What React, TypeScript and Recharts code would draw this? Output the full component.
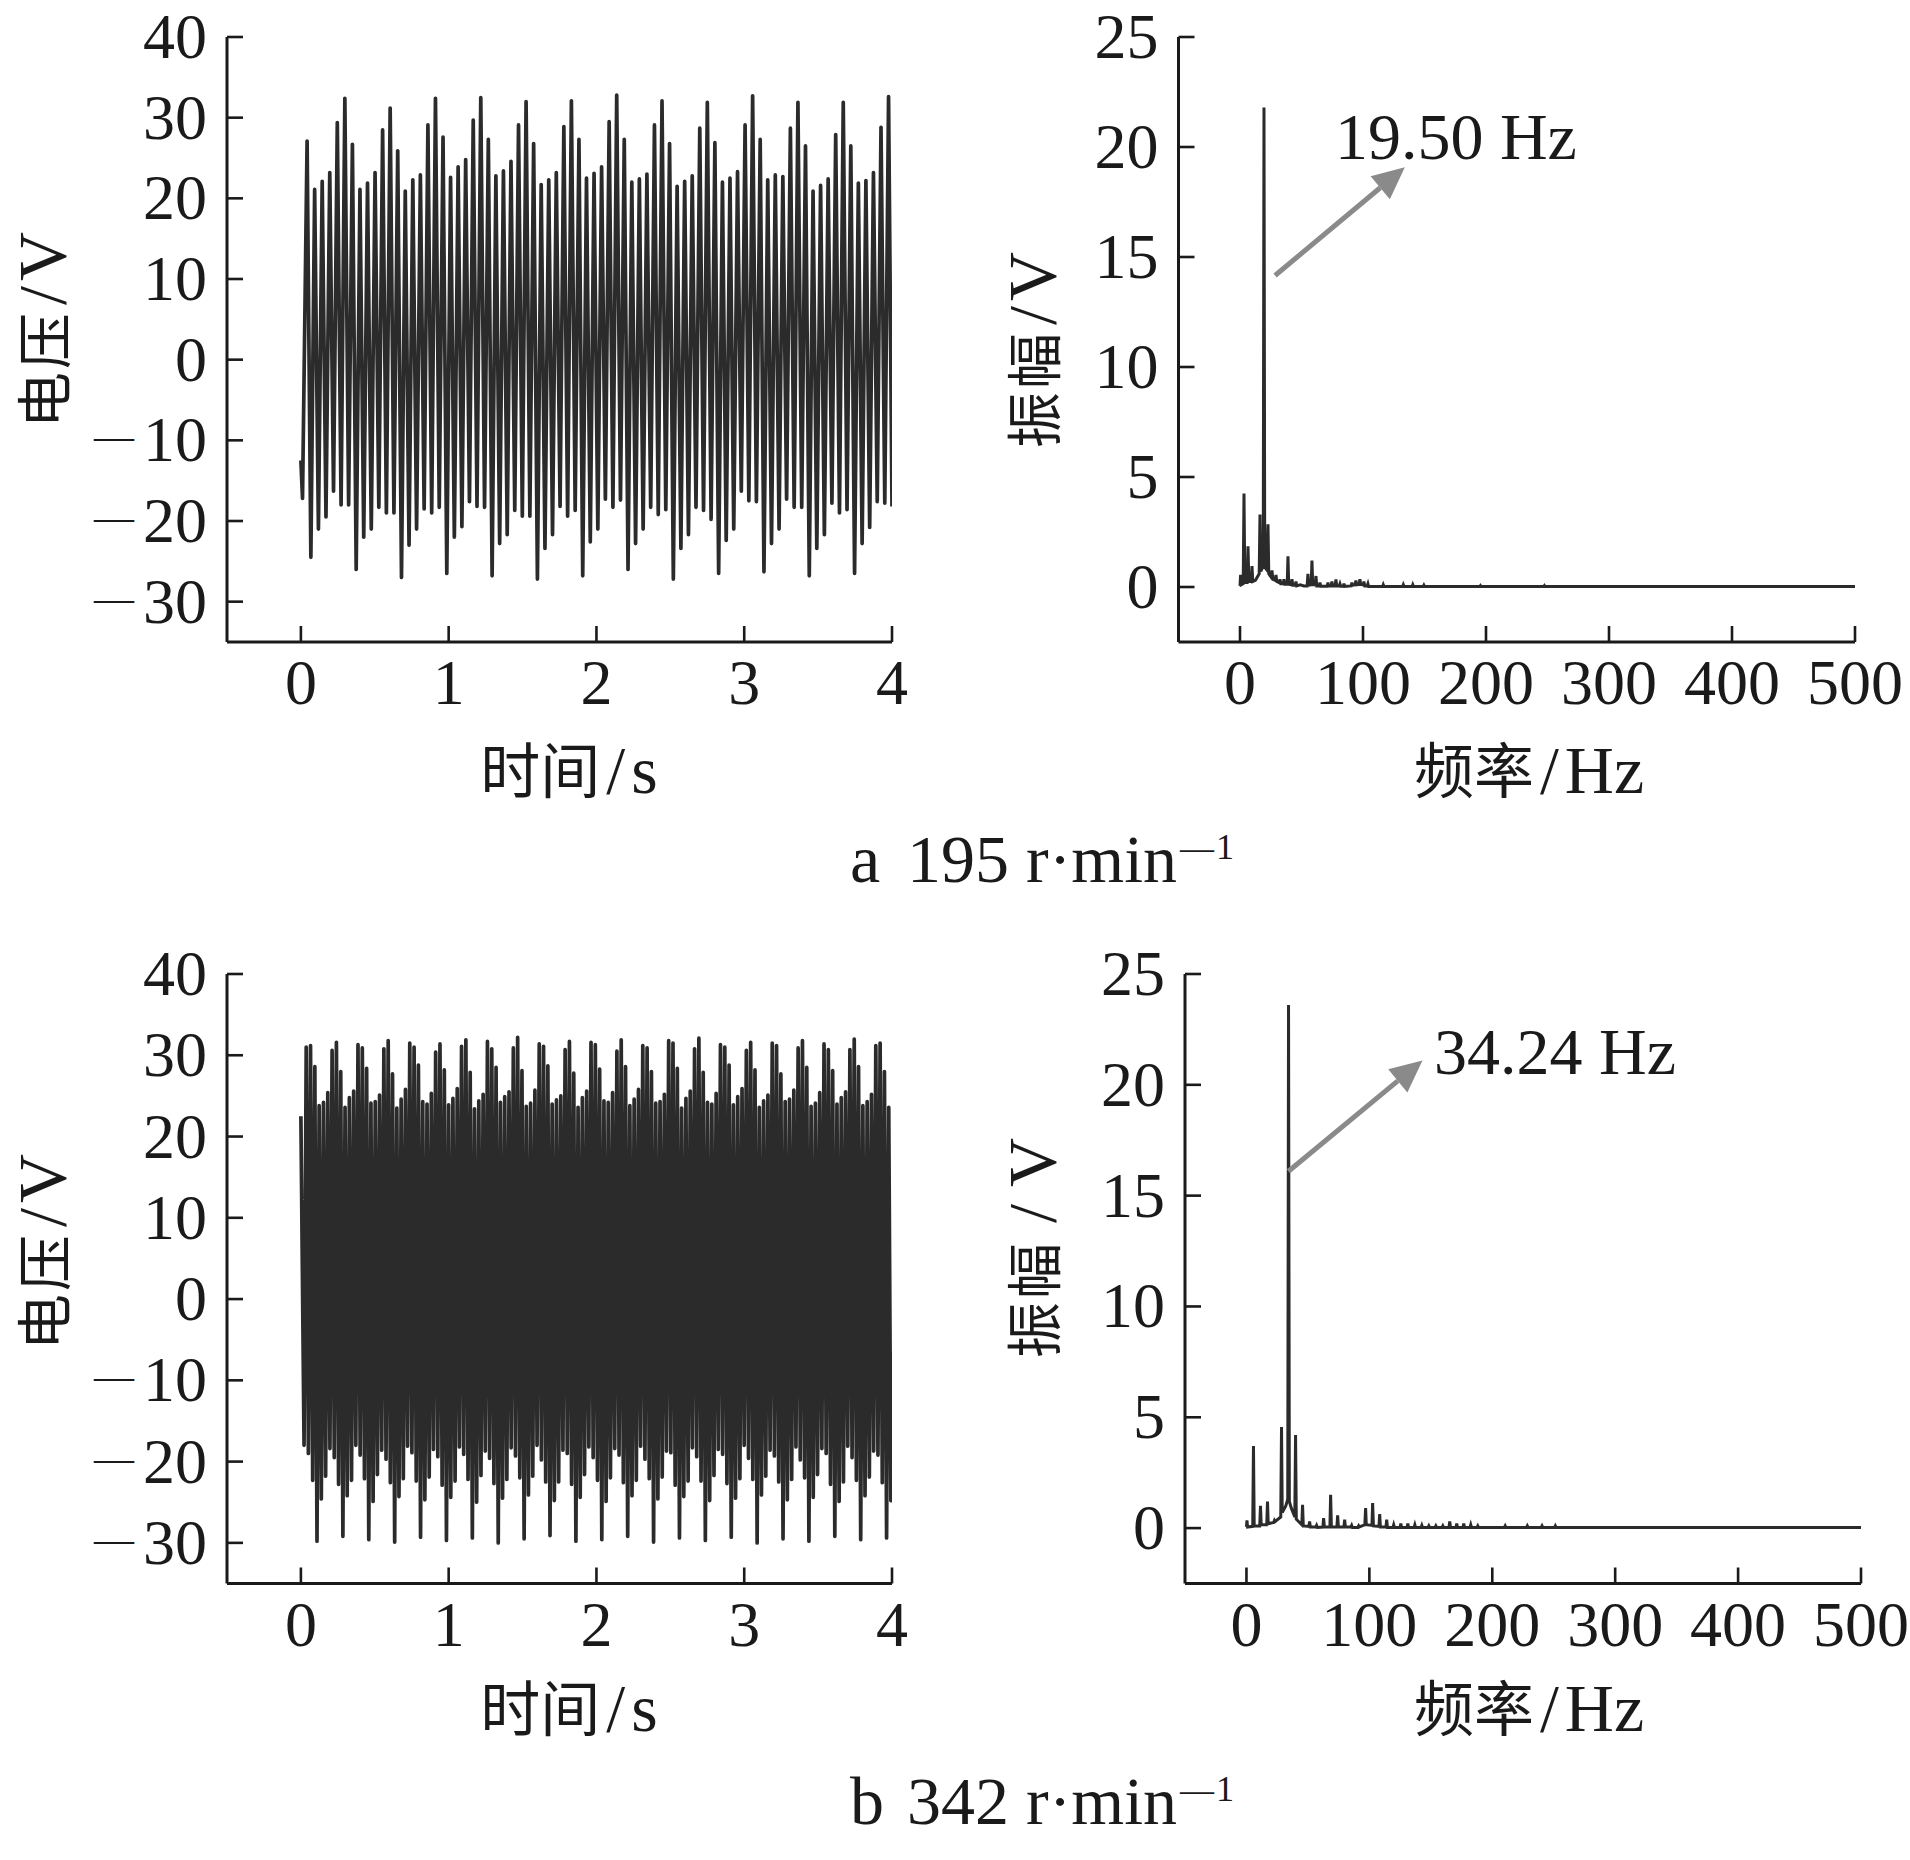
import React from 'react';
import { LineChart, Line, XAxis, YAxis, ReferenceLine, ReferenceDot } from 'recharts';

const SERIF = '"Liberation Serif", "DejaVu Serif", serif';
const CJK = '"Noto Sans CJK SC", "Noto Sans CJK JP", sans-serif';
const INK = '#1a1a1a';
const WAVE = '#2b2b2b';
const ARROW = '#8a8a8a';

// ---------- tick labels ----------
const timeTicks = [0, 1, 2, 3, 4];
const voltTicks = [-30, -20, -10, 0, 10, 20, 30, 40];
const freqTicks = [0, 100, 200, 300, 400, 500];
const ampTicks = [0, 5, 10, 15, 20, 25];

// ---------- (a) 195 r/min : time signal, extremes of each oscillation ----------
const waveAStart: [number, number][] = [[0, -12.5], [0.011, -17.2]];
const waveAFirstPeak = 0.042; // s
const waveAPeriod = 0.0511; // s (≈19.5 Hz)
const waveAPeaks = [
  27.1, 21.1, 22.1, 23.2, 29.4, 32.4,
  26.7, 21.1, 21.9, 23.2, 28.5, 31.2,
  25.9, 20.9, 22.3, 22.9, 29.1, 32.4,
  27.6, 22.6, 23.9, 24.8, 29.7, 32.5,
  27.3, 22.8, 23.4, 24.6, 29.1, 32.0,
  26.8, 21.7, 22.3, 23.2, 28.9, 32.1,
  27.3, 22.5, 23.1, 23.9, 29.5, 32.8,
  27.3, 22.0, 22.4, 23.0, 29.1, 32.1,
  26.8, 21.5, 22.1, 22.8, 28.7, 31.9,
  26.9, 22.0, 22.5, 23.3, 29.1, 32.7,
  27.3, 22.3, 22.9, 22.7, 28.7, 31.9,
  26.5, 20.9, 21.6, 22.4, 27.9, 31.9,
  26.5, 21.9, 22.2, 23.2, 28.8, 32.6,
];
const waveATroughs = [
  -24.5, -21.0, -19.5, -16.3, -18.0, -18.0,
  -26.0, -22.0, -21.0, -18.3, -19.0, -19.0,
  -27.0, -23.0, -21.0, -18.5, -19.0, -18.3,
  -26.5, -22.0, -20.7, -17.6, -18.2, -18.3,
  -26.8, -22.8, -21.7, -18.7, -19.4, -19.4,
  -27.2, -23.4, -21.7, -18.2, -19.4, -18.7,
  -26.8, -22.6, -21.0, -17.3, -18.3, -17.4,
  -26.0, -22.8, -21.0, -18.3, -19.2, -18.6,
  -27.2, -23.4, -21.7, -18.3, -18.7, -19.8,
  -26.5, -22.4, -21.0, -16.3, -17.5, -17.6,
  -26.3, -22.8, -21.0, -17.3, -18.3, -18.3,
  -26.8, -23.4, -21.7, -17.8, -19.0, -18.6,
  -26.5, -22.8, -20.8, -17.6, -17.8,
];
const waveAEnd: [number, number] = [4.0, -18.2];

// ---------- (b) 342 r/min : time signal ----------
const waveBStart: [number, number][] = [[0, 22.5], [0.0214, -18.0]];
const waveBFirstPeak = 0.036;
const waveBPeriod = 0.0292; // s (≈34.24 Hz)
const waveBPeaks = [
  31.0, 31.2, 28.6, 23.8, 24.2, 25.4,
  30.6, 31.6, 28.0, 23.6, 24.8, 25.6,
  31.3, 30.9, 28.4, 24.1, 24.3, 25.1,
  30.8, 31.8, 27.7, 23.5, 24.6, 25.8,
  31.5, 31.0, 28.8, 24.3, 24.0, 25.3,
  30.4, 31.4, 28.2, 23.9, 24.7, 25.9,
  31.1, 31.9, 27.9, 23.4, 24.4, 25.2,
  31.7, 30.8, 28.5, 24.2, 24.9, 25.5,
  30.9, 32.2, 28.1, 23.7, 24.1, 25.7,
  31.4, 31.1, 28.7, 24.0, 24.5, 25.0,
  30.7, 31.7, 27.8, 23.6, 24.8, 25.6,
  31.6, 31.3, 28.3, 24.4, 24.2, 25.4,
  30.5, 31.9, 28.6, 23.8, 24.6, 25.8,
  31.2, 30.9, 28.0, 24.1, 24.3, 25.2,
  31.8, 31.5, 28.4, 23.5, 24.7, 25.6,
  30.8, 32.1, 27.9, 24.2, 24.0, 25.3,
  31.3, 31.0, 28.8, 23.9, 24.9, 25.9,
  30.6, 31.6, 28.2, 23.6, 24.4, 25.1,
  31.5, 31.2, 27.7, 24.3, 24.6, 25.7,
  30.9, 31.8, 28.5, 23.7, 24.1, 25.4,
  31.4, 30.7, 28.1, 24.0, 24.8, 25.5,
  30.7, 32.0, 28.6, 23.8, 24.3, 25.2,
  31.2, 31.5, 28.0, 23.6,
];
const waveBTroughs = [
  -19.0, -22.3, -29.8, -24.6, -21.8, -18.4,
  -19.5, -22.8, -29.2, -24.2, -22.3, -18.0,
  -19.2, -22.1, -29.6, -24.9, -21.6, -18.6,
  -19.7, -22.6, -29.9, -24.3, -22.1, -18.1,
  -18.9, -22.4, -29.3, -24.7, -21.9, -18.5,
  -19.4, -22.9, -29.7, -24.4, -22.4, -18.2,
  -19.1, -22.2, -29.4, -25.0, -21.7, -18.7,
  -19.6, -22.7, -30.0, -24.5, -22.2, -18.3,
  -19.3, -22.0, -29.5, -24.1, -21.8, -18.0,
  -19.8, -22.5, -29.1, -24.8, -22.5, -18.6,
  -19.0, -22.8, -29.8, -24.4, -21.6, -18.2,
  -19.5, -22.3, -29.6, -24.9, -22.0, -18.4,
  -19.2, -22.6, -29.2, -24.2, -22.3, -18.1,
  -19.7, -22.1, -29.9, -24.6, -21.9, -18.7,
  -18.9, -22.9, -29.4, -24.3, -22.4, -18.3,
  -19.4, -22.4, -29.7, -24.8, -21.7, -18.5,
  -19.1, -22.7, -29.3, -24.5, -22.1, -18.0,
  -19.6, -22.2, -30.0, -24.1, -21.8, -18.6,
  -19.3, -22.5, -29.5, -24.7, -22.2, -18.2,
  -19.8, -22.0, -29.8, -24.4, -21.6, -18.4,
  -19.0, -22.8, -29.2, -24.9, -22.5, -18.1,
  -19.5, -22.3, -29.6, -24.2, -21.9, -18.7,
  -19.2, -22.6, -29.4, -24.8,
];
const waveBEnd: [number, number] = [4.0, -6.5];

// ---------- spectra: [frequency Hz, amplitude V] ----------
const spectrumA: [number, number][] = [
  [0, 0.05], [0.5, 0.55], [1.0, 0.1], [2.6, 0.15], [3.25, 4.25], [3.9, 0.2],
  [5.8, 0.2], [6.5, 1.85], [7.2, 0.25], [9.1, 0.25], [9.75, 0.95], [10.4, 0.25],
  [12.5, 0.3], [13.5, 0.4], [15.6, 0.6], [16.25, 3.3], [16.9, 0.7], [17.5, 0.8],
  [18.9, 0.9], [19.5, 21.8], [20.1, 0.9], [21.5, 0.8], [22.75, 2.85], [23.4, 0.6],
  [25.3, 0.45], [26, 0.75], [26.7, 0.35], [28.6, 0.3], [29.25, 0.55], [29.9, 0.25],
  [31.8, 0.2], [32.5, 0.35], [33.2, 0.15], [35.1, 0.15], [35.75, 0.35], [36.4, 0.12],
  [38.4, 0.12], [39, 1.4], [39.6, 0.12], [41.6, 0.1], [42.25, 0.35], [42.9, 0.08],
  [44.9, 0.08], [45.5, 0.25], [46.1, 0.05], [49, 0.1], [52, 0.05], [54.6, 0.05],
  [55.25, 0.6], [55.9, 0.08], [57.9, 0.1], [58.5, 1.2], [59.1, 0.1], [61.1, 0.1],
  [61.75, 0.5], [62.4, 0.05], [64.4, 0.05], [65, 0.2], [65.6, 0.03], [70.9, 0.03],
  [71.5, 0.2], [72.1, 0.05], [74.1, 0.05], [74.75, 0.25], [75.4, 0.05], [77.4, 0.05],
  [78, 0.35], [78.6, 0.05], [80.6, 0.05], [81.25, 0.15], [81.9, 0.03], [84, 0.03],
  [84.5, 0.15], [85.1, 0.03], [90.4, 0.05], [91, 0.2], [91.6, 0.08], [93.6, 0.1],
  [94.25, 0.3], [94.9, 0.1], [96.9, 0.12], [97.5, 0.35], [98.1, 0.12], [100.1, 0.1],
  [100.75, 0.25], [101.4, 0.05], [103.4, 0.05], [104, 0.15], [104.6, 0.02], [116, 0.02],
  [116.5, 0.1], [117.1, 0.02], [132.3, 0.02], [132.8, 0.1], [133.4, 0.02], [140, 0.02],
  [140.5, 0.1], [141.1, 0.02], [149, 0.02], [149.5, 0.08], [150, 0.02], [195, 0.02],
  [195.5, 0.06], [196, 0.02], [247, 0.02], [247.5, 0.06], [248, 0.02], [500, 0.02],
];
const spectrumB: [number, number][] = [
  [0, 0.05], [0.4, 0.35], [0.9, 0.05], [5.1, 0.08], [5.71, 3.7], [6.3, 0.1],
  [10.8, 0.1], [11.42, 1.0], [12.0, 0.15], [16.5, 0.15], [17.12, 1.2], [17.7, 0.2],
  [22.2, 0.25], [22.83, 0.35], [23.4, 0.3], [27.9, 0.5], [28.53, 4.56], [29.1, 0.7],
  [32.0, 1.0], [33.6, 1.3], [34.24, 23.6], [34.9, 1.2], [36.5, 0.9], [39.35, 0.5],
  [39.95, 4.2], [40.55, 0.4], [45.05, 0.15], [45.65, 1.05], [46.25, 0.1], [50.8, 0.08],
  [51.36, 0.3], [52.0, 0.05], [56.5, 0.05], [57.07, 0.12], [57.7, 0.03], [62.2, 0.05],
  [62.78, 0.45], [63.4, 0.05], [67.9, 0.05], [68.48, 1.5], [69.1, 0.05], [73.6, 0.05],
  [74.19, 0.57], [74.8, 0.05], [79.3, 0.05], [79.89, 0.38], [80.5, 0.05], [85.0, 0.05],
  [85.6, 0.12], [86.2, 0.03], [90.7, 0.03], [91.3, 0.1], [91.9, 0.05], [96.3, 0.15],
  [96.95, 0.9], [97.5, 0.15], [102.1, 0.12], [102.66, 1.13], [103.3, 0.1], [107.8, 0.08],
  [108.4, 0.63], [109.0, 0.05], [113.5, 0.05], [114.1, 0.38], [114.7, 0.03], [119.2, 0.03],
  [119.8, 0.15], [120.4, 0.03], [125.0, 0.03], [125.6, 0.2], [126.2, 0.03], [130.7, 0.03],
  [131.3, 0.2], [131.9, 0.03], [136.4, 0.03], [137.0, 0.15], [137.6, 0.03], [142.1, 0.03],
  [142.7, 0.12], [143.3, 0.03], [147.8, 0.03], [148.4, 0.1], [149.0, 0.03], [153.5, 0.03],
  [154.1, 0.1], [154.7, 0.03], [159.2, 0.03], [159.8, 0.1], [160.4, 0.03], [164.8, 0.03],
  [165.4, 0.3], [166.0, 0.03], [170.5, 0.03], [171.1, 0.2], [171.7, 0.03], [176.2, 0.03],
  [176.8, 0.2], [177.4, 0.03], [181.9, 0.03], [182.5, 0.15], [183.1, 0.03], [187.6, 0.03],
  [188.2, 0.1], [188.8, 0.03], [209.9, 0.03], [210.5, 0.1], [211.1, 0.03], [227.9, 0.03],
  [228.5, 0.1], [229.1, 0.03], [239.9, 0.03], [240.5, 0.1], [241.1, 0.03], [250.7, 0.03],
  [251.3, 0.1], [251.9, 0.03], [500, 0.03],
];

// ---------- annotations (data coordinates) ----------
const annoA = { from: { x: 28.5, y: 14.16 }, to: { x: 134, y: 19.08 }, text: '19.50 Hz', tx: 77.2, ty: 19.44 };
const annoB = { from: { x: 34.2, y: 16.1 }, to: { x: 143.2, y: 21.1 }, text: '34.24 Hz', tx: 152.6, ty: 20.5 };

type Pt = { t: number; v: number };
function buildWave(start: [number, number][], t0: number, period: number, peaks: number[], troughs: number[], end: [number, number]): Pt[] {
  const pts: Pt[] = start.map(([t, v]) => ({ t, v }));
  peaks.forEach((p, i) => {
    pts.push({ t: t0 + i * period, v: p });
    if (i < troughs.length) pts.push({ t: t0 + (i + 0.5) * period, v: troughs[i] });
  });
  pts.push({ t: end[0], v: end[1] });
  return pts;
}
const dataA = buildWave(waveAStart, waveAFirstPeak, waveAPeriod, waveAPeaks, waveATroughs, waveAEnd);
const dataB = buildWave(waveBStart, waveBFirstPeak, waveBPeriod, waveBPeaks, waveBTroughs, waveBEnd);
const specA = spectrumA.map(([f, a]) => ({ f, a }));
const specB = spectrumB.map(([f, a]) => ({ f, a }));

const TICK_FS = 64;

const YTick = (props: any) => {
  const { x, y, payload } = props;
  const v = payload.value as number;
  return (
    <g>
      <line x1={x} y1={y} x2={x + 16} y2={y} stroke={INK} strokeWidth={2.6} />
      <text x={x - 20} y={y + 21} textAnchor="end" fontFamily={SERIF} fontSize={TICK_FS} fill={INK}>
        {v < 0 ? (
          <>
            <tspan fontSize={40} dy={-12}>—</tspan>
            <tspan dx={9} dy={12}>{Math.abs(v)}</tspan>
          </>
        ) : (
          String(v)
        )}
      </text>
    </g>
  );
};

const XTick = (props: any) => {
  const { x, y, payload } = props;
  return (
    <g>
      <line x1={x} y1={y} x2={x} y2={y - 16} stroke={INK} strokeWidth={2.6} />
      <text x={x} y={y + 62} textAnchor="middle" fontFamily={SERIF} fontSize={TICK_FS} fill={INK}>
        {String(payload.value)}
      </text>
    </g>
  );
};

const ArrowShape = (props: any) => {
  const { x1, y1, x2, y2 } = props;
  const ang = Math.atan2(y2 - y1, x2 - x1);
  const L = 32;
  const W = 15;
  const bx = x2 - L * Math.cos(ang);
  const by = y2 - L * Math.sin(ang);
  const px = -Math.sin(ang);
  const py = Math.cos(ang);
  return (
    <g>
      <line x1={x1} y1={y1} x2={bx} y2={by} stroke={ARROW} strokeWidth={5} />
      <polygon points={`${x2},${y2} ${bx + px * W},${by + py * W} ${bx - px * W},${by - py * W}`} fill={ARROW} />
    </g>
  );
};

const axisLine = { stroke: INK, strokeWidth: 3 };

function TimePanel({ data, left, top, width, height, margin }: any) {
  return (
    <div style={{ position: 'absolute', left, top, width, height }}>
      <LineChart width={width} height={height} data={data} margin={margin}>
        <XAxis
          type="number"
          dataKey="t"
          domain={[-0.5, 4]}
          ticks={timeTicks}
          interval={0}
          allowDataOverflow
          axisLine={axisLine}
          tickLine={false}
          tickSize={0}
          tickMargin={0}
          height={30}
          tick={XTick}
        />
        <YAxis
          type="number"
          domain={[-35, 40]}
          ticks={voltTicks}
          interval={0}
          allowDataOverflow
          axisLine={axisLine}
          tickLine={false}
          tickSize={0}
          tickMargin={0}
          width={80}
          tick={YTick}
        />
        <Line
          type="linear"
          dataKey="v"
          stroke={WAVE}
          strokeWidth={3.7}
          strokeLinejoin="round"
          dot={false}
          activeDot={false}
          isAnimationActive={false}
        />
      </LineChart>
    </div>
  );
}

function SpecPanel({ data, left, top, width, height, margin, anno }: any) {
  return (
    <div style={{ position: 'absolute', left, top, width, height }}>
      <LineChart width={width} height={height} data={data} margin={margin}>
        <XAxis
          type="number"
          dataKey="f"
          domain={[-50, 500]}
          ticks={freqTicks}
          interval={0}
          allowDataOverflow
          axisLine={axisLine}
          tickLine={false}
          tickSize={0}
          tickMargin={0}
          height={30}
          tick={XTick}
        />
        <YAxis
          type="number"
          domain={[-2.5, 25]}
          ticks={ampTicks}
          interval={0}
          allowDataOverflow
          axisLine={axisLine}
          tickLine={false}
          tickSize={0}
          tickMargin={0}
          width={80}
          tick={YTick}
        />
        <Line
          type="linear"
          dataKey="a"
          stroke={WAVE}
          strokeWidth={3}
          dot={false}
          activeDot={false}
          isAnimationActive={false}
        />
        <ReferenceLine segment={[anno.from, anno.to]} shape={ArrowShape} />
        <ReferenceDot
          x={anno.tx}
          y={anno.ty}
          r={0}
          shape={(p: any) => (
            <text x={p.cx} y={p.cy} fontFamily={SERIF} fontSize={66} fill={INK}>
              {anno.text}
            </text>
          )}
        />
      </LineChart>
    </div>
  );
}

// unit part "/X": the slash gets a little air on both sides (as in the reference typesetting)
const Unit = ({ sep, unit, gap }: { sep: string; unit: string; gap: number }) => (
  <>
    <tspan fontFamily={SERIF} fontSize={68} dx={gap}>{sep}</tspan>
    <tspan fontFamily={SERIF} fontSize={68} dx={gap}>{unit}</tspan>
  </>
);

// vertical title: x = baseline position (glyph tops point left)
const TitleV = ({ x, cy, cjk, sep, unit, gap = 5 }: { x: number; cy: number; cjk: string; sep: string; unit: string; gap?: number }) => (
  <text transform={`translate(${x},${cy}) rotate(-90)`} textAnchor="middle" fill={INK}>
    <tspan fontFamily={CJK} fontSize={56} letterSpacing={3}>{cjk}</tspan>
    <Unit sep={sep} unit={unit} gap={gap} />
  </text>
);

const TitleH = ({ cx, y, cjk, sep, unit }: { cx: number; y: number; cjk: string; sep: string; unit: string }) => (
  <text x={cx} y={y} textAnchor="middle" fill={INK}>
    <tspan fontFamily={CJK} fontSize={60}>{cjk}</tspan>
    <Unit sep={sep} unit={unit} gap={6} />
  </text>
);

const Caption = ({ y, letter, speed }: { y: number; letter: string; speed: string }) => (
  <text y={y} fontFamily={SERIF} fontSize={68} fill={INK}>
    <tspan x={850}>{letter}</tspan>
    <tspan x={907}>{speed} r·min</tspan>
    <tspan x={1180} y={y - 23} fontSize={34}>—</tspan>
    <tspan dx={2} fontSize={36}>1</tspan>
  </text>
);

export default function App() {
  return (
    <div style={{ position: 'absolute', left: 0, top: 0, width: 1910, height: 1860, background: '#fff', overflow: 'hidden' }}>
      <TimePanel data={dataA} left={0} top={0} width={955} height={930} margin={{ top: 37, right: 63, bottom: 258, left: 147 }} />
      <SpecPanel data={specA} anno={annoA} left={955} top={0} width={955} height={930} margin={{ top: 37, right: 55, bottom: 258, left: 143.5 }} />
      <TimePanel data={dataB} left={0} top={930} width={955} height={930} margin={{ top: 44, right: 63, bottom: 246.5, left: 147 }} />
      <SpecPanel data={specB} anno={annoB} left={955} top={930} width={955} height={930} margin={{ top: 44, right: 49, bottom: 246.5, left: 150 }} />
      <svg width={1910} height={1860} style={{ position: 'absolute', left: 0, top: 0, pointerEvents: 'none' }}>
        <TitleV x={65} cy={330} cjk="电压" sep="/" unit="V" />
        <TitleH cx={569} y={793} cjk="时间" sep="/" unit="s" />
        <TitleV x={1055} cy={350} cjk="振幅" sep="/" unit="V" />
        <TitleH cx={1529} y={793} cjk="频率" sep="/" unit="Hz" />
        <Caption y={882} letter="a" speed="195" />
        <TitleV x={65} cy={1252} cjk="电压" sep="/" unit="V" />
        <TitleH cx={569} y={1731} cjk="时间" sep="/" unit="s" />
        <TitleV x={1055} cy={1248} cjk="振幅" sep=" / " unit="V" gap={0} />
        <TitleH cx={1529} y={1731} cjk="频率" sep="/" unit="Hz" />
        <Caption y={1824} letter="b" speed="342" />
      </svg>
    </div>
  );
}
